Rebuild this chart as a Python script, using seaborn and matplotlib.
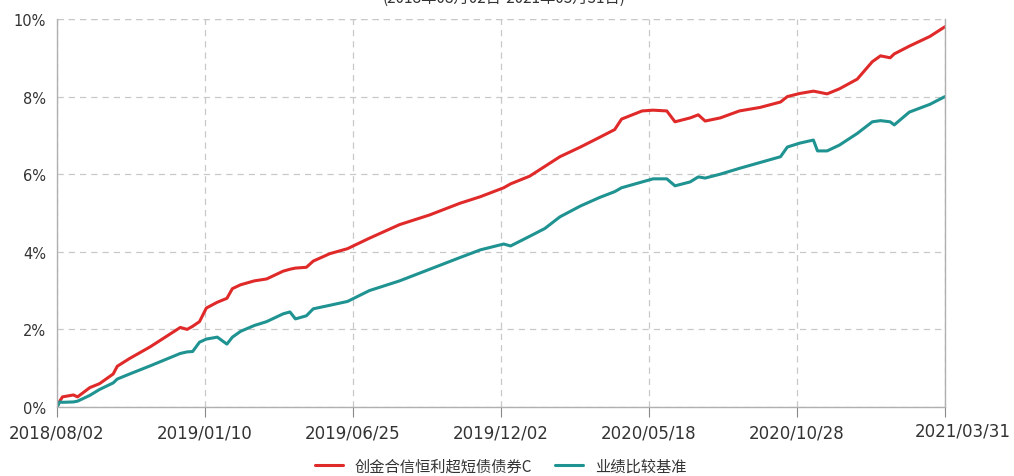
import numpy as np
import pandas as pd
import matplotlib
matplotlib.use('Agg')
import matplotlib.pyplot as plt
import matplotlib.transforms as mtransforms
import seaborn as sns

# trading-day index (0 = 2018/08/02, 648 = 2021/03/31)
day = [0, 2, 4, 12, 15, 24, 31, 41, 44, 53, 68, 79, 90, 95, 99, 104, 109, 117,
       124, 128, 134, 144, 153, 165, 170, 174, 182, 187, 199, 212, 228, 250,
       272, 294, 309, 326, 331, 345, 356, 367, 382, 396, 407, 412, 427, 435,
       445, 451, 462, 468, 473, 484, 498, 513, 528, 533, 542, 552, 555, 562,
       571, 584, 595, 601, 608, 611, 622, 637, 648]

fund = [0.0, 0.15, 0.26, 0.31, 0.26, 0.5, 0.6, 0.85, 1.05, 1.25, 1.55, 1.8,
        2.05, 2.0, 2.08, 2.2, 2.55, 2.7, 2.8, 3.05, 3.15, 3.25, 3.3, 3.5, 3.55,
        3.58, 3.6, 3.76, 3.95, 4.08, 4.35, 4.7, 4.95, 5.25, 5.42, 5.65, 5.75,
        5.95, 6.2, 6.45, 6.7, 6.95, 7.15, 7.42, 7.63, 7.65, 7.63, 7.35, 7.45,
        7.53, 7.37, 7.45, 7.63, 7.72, 7.86, 8.0, 8.08, 8.14, 8.12, 8.07, 8.2,
        8.45, 8.9, 9.05, 9.0, 9.1, 9.3, 9.55, 9.8]

bench = [0.0, 0.13, 0.12, 0.13, 0.15, 0.3, 0.45, 0.62, 0.72, 0.85, 1.06, 1.22,
         1.38, 1.42, 1.43, 1.67, 1.75, 1.8, 1.62, 1.8, 1.95, 2.1, 2.2, 2.4,
         2.45, 2.27, 2.35, 2.53, 2.62, 2.72, 3.0, 3.25, 3.55, 3.85, 4.05, 4.2,
         4.15, 4.4, 4.6, 4.9, 5.18, 5.4, 5.55, 5.65, 5.8, 5.88, 5.88, 5.7, 5.8,
         5.93, 5.9, 6.0, 6.15, 6.3, 6.45, 6.7, 6.8, 6.88, 6.6, 6.6, 6.75, 7.05,
         7.35, 7.38, 7.35, 7.27, 7.6, 7.8, 8.0]

tick_days = [0, 108, 216, 324, 432, 540, 648]
tick_labels = ['2018/08/02', '2019/01/10', '2019/06/25', '2019/12/02',
               '2020/05/18', '2020/10/28', '2021/03/31']
y_ticks = [0, 2, 4, 6, 8, 10]

names = ['创金合信恒利超短债债券C', '业绩比较基准']
colors = ['#e02a2a', '#1f9391']

df = pd.concat([
    pd.DataFrame({'day': day, 'ret': fund, 'series': names[0]}),
    pd.DataFrame({'day': day, 'ret': bench, 'series': names[1]}),
])

sns.set_style('white')
plt.rcParams['font.family'] = ['DejaVu Sans']

fig = plt.figure(figsize=(10.14, 4.77), dpi=100)
ax = fig.add_axes([0.0562, 0.1447, 0.8757, 0.8134])

sns.lineplot(data=df, x='day', y='ret', hue='series', palette=colors,
             linewidth=2.2, ax=ax)

ax.set_xlim(0, 648)
ax.set_ylim(0, 10)
ax.set_xticks(tick_days)
ax.set_xticklabels(tick_labels)
ax.set_yticks(y_ticks)
ax.set_yticklabels([f'{v}%' for v in y_ticks])
ax.set_xlabel('')
ax.set_ylabel('')

ax.grid(True, linestyle=(0, (5, 4)), color='#c8c8c8', linewidth=0.9)
for s in ['left', 'bottom', 'right']:
    ax.spines[s].set_color('#b0b0b0')
    ax.spines[s].set_linewidth(1.0)
ax.spines['top'].set_visible(False)
ax.axhline(10, linestyle=(0, (5, 4)), color='#c8c8c8', linewidth=0.9)

ax.tick_params(axis='x', length=7, color='#888888', labelsize=12,
               labelcolor='#333333', pad=5, bottom=True)
ax.tick_params(axis='y', length=0, labelsize=10.5, labelcolor='#333333', pad=8)

# last date label sits a bit right of its tick and slightly higher
last = ax.get_xticklabels()[-1]
last.set_transform(last.get_transform() +
                   mtransforms.ScaledTranslation(0.18, 0.02, fig.dpi_scale_trans))

handles, labels = ax.get_legend_handles_labels()
ax.legend(handles, labels, loc='center', bbox_to_anchor=(0.5, -0.152),
          ncol=2, frameon=False, handlelength=1.8, columnspacing=1.5,
          prop={'family': ['Noto Sans CJK SC', 'DejaVu Sans'], 'size': 11})
for t in ax.get_legend().get_texts():
    t.set_color('#333333')

fig.text(0.497, 1.004, '(2018年08月02日-2021年03月31日)', ha='center', va='center',
         fontsize=11, color='#333333',
         family=['Noto Sans CJK SC', 'DejaVu Sans'])

fig.savefig('out.png', dpi=100)
